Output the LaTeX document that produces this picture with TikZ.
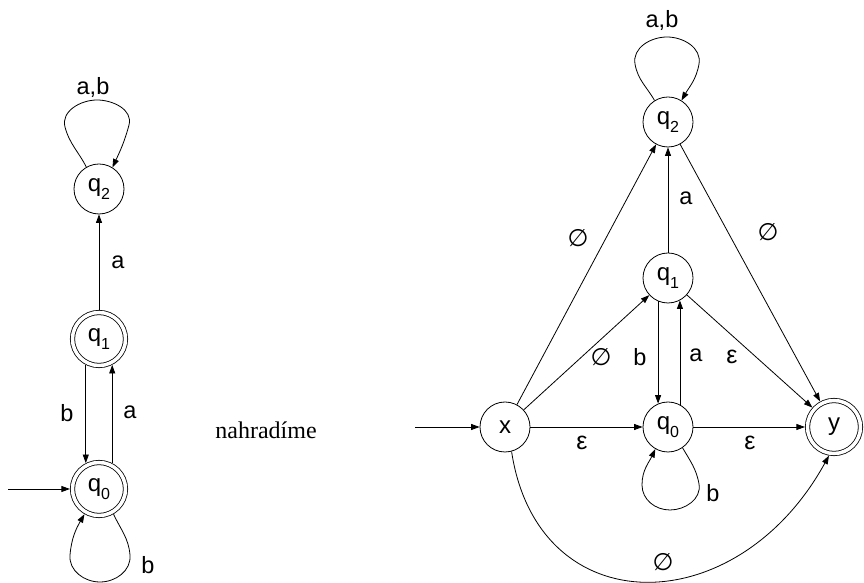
\documentclass[tikz,border=0pt]{standalone}
\usepackage{fontspec}
\setmainfont{Liberation Serif}
\newfontfamily\lblfont{Liberation Sans}
\newfontfamily\symfont{DejaVu Sans}
\usetikzlibrary{arrows.meta,calc}

% state name with a lowered index
\newcommand{\qsub}[2]{#1\raisebox{-0.32em}{\fontsize{16}{16}\selectfont #2}}
% empty-set and epsilon labels
\newcommand{\nul}{{\symfont\fontsize{24}{24}\selectfont ∅}}
\newcommand{\eps}{{\fontsize{25}{25}\selectfont ε}}

\begin{document}
\begin{tikzpicture}[x=1pt,y=1pt,
  state/.style={circle, draw, line width=0.8pt, minimum size=50pt, inner sep=0pt,
    font=\lblfont\fontsize{24}{24}\selectfont},
  accept/.style={state, minimum size=53pt, double, double distance=3.5pt, outer sep=2.6pt},
  edge/.style={draw, line width=0.8pt, -{Triangle[length=8.5pt,width=6pt]}},
  lbl/.style={inner sep=0pt, font=\lblfont\fontsize{23.5}{23.5}\selectfont},
]
\useasboundingbox (0,0) rectangle (864,583);

% ---------- original automaton ----------
\node[state]  (lq2) at (99,394) {\qsub{q}{2}};
\node[accept] (lq1) at (99,244) {\qsub{q}{1}};
\node[accept] (lq0) at (99,94)  {\qsub{q}{0}};
\coordinate (lin) at (8,94);

\draw[edge] (lin) -- (lq0);
\draw[edge] (lq1) -- (lq2) node[lbl] (la12) at (118,321) {a};
\draw[edge] (lq1.243) -- (lq0.117) node[lbl] (lb10) at (67,170) {b};
\draw[edge] (lq0.63) -- (lq1.297) node[lbl] (la01) at (130,171) {a};

\draw[edge] (lq2.120) to[out=117,in=-75] ($(lq2)+(-34,62)$)
  to[out=105,in=180] ($(lq2)+(-2,89)$)
  to[out=0,in=75] ($(lq2)+(30,64)$)
  to[out=-105,in=65] (lq2.58)
  node[lbl] (lab2) at (93,496) {a,b};

\draw[edge] (lq0.-60) to[out=-65,in=95] ($(lq0)+(31,-66)$)
  to[out=-85,in=0] ($(lq0)+(1,-93)$)
  to[out=180,in=-95] ($(lq0)+(-29,-66)$)
  to[out=85,in=-120] (lq0.-120)
  node[lbl] (lb00) at (148,18) {b};

% ---------- middle text ----------
\node[font=\fontsize{24}{24}\selectfont, inner sep=0pt] (repl) at (266,153) {nahradíme};

% ---------- automaton with new initial and final state ----------
\node[state]  (rq2) at (668,461) {\qsub{q}{2}};
\node[state]  (rq1) at (668,305) {\qsub{q}{1}};
\node[state]  (rx)  at (505,156) {x};
\node[state]  (rq0) at (668,156) {\qsub{q}{0}};
\node[accept] (ry)  at (834,156) {y};
\coordinate (rin) at (415,156);

\draw[edge] (rin) -- (rx);
\draw[edge] (rx) -- (rq2) node[lbl] (e1) at (578,345) {\nul};
\draw[edge] (rx) -- (rq1) node[lbl] (e2) at (601,226) {\nul};
\draw[edge] (rx) -- (rq0) node[lbl] (e3) at (582,140) {\eps};
\draw[edge] (rq1) -- (rq2) node[lbl] (e4) at (686,385) {a};
\draw[edge] (rq1.247) -- (rq0.113) node[lbl] (e5) at (640,226) {b};
\draw[edge] (rq0.62) -- (rq1.298) node[lbl] (e6) at (696,228) {a};
\draw[edge] (rq1) -- (ry) node[lbl] (e7) at (732,226) {\eps};
\draw[edge] (rq2) -- (ry) node[lbl] (e8) at (768,351) {\nul};
\draw[edge] (rq0) -- (ry) node[lbl] (e9) at (750,140) {\eps};
\draw[edge] (rx.-75) .. controls (538,-42) and (737,-40) .. (ry.-100)
  node[lbl] (e10) at (663,21) {\nul};

\draw[edge] (rq2.122) to[out=120,in=-80] ($(rq2)+(-33,58)$)
  to[out=100,in=180] ($(rq2)+(-1,85)$)
  to[out=0,in=80] ($(rq2)+(31,58)$)
  to[out=-100,in=60] (rq2.58)
  node[lbl] (e11) at (662,563) {a,b};

\draw[edge] (rq0.-55) to[out=-60,in=100] ($(rq0)+(31,-57)$)
  to[out=-80,in=0] ($(rq0)+(2,-83)$)
  to[out=180,in=-90] ($(rq0)+(-26,-58)$)
  to[out=90,in=-115] (rq0.-120)
  node[lbl] (e12) at (713,90) {b};
\end{tikzpicture}
\end{document}
